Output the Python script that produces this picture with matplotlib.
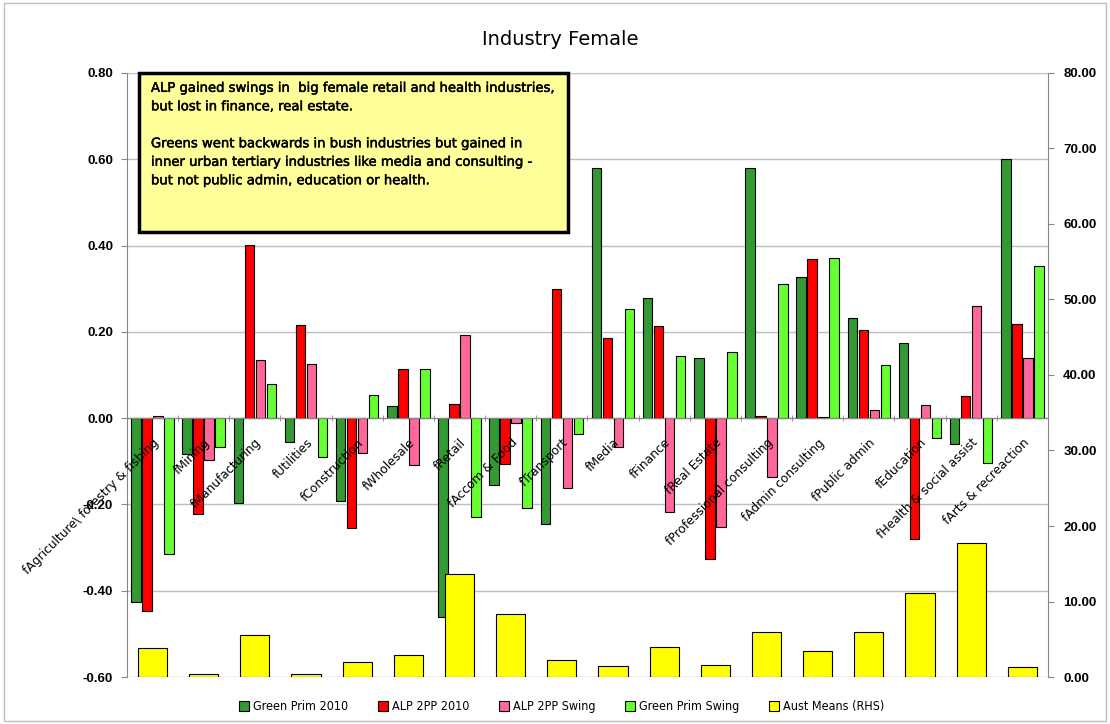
import numpy as np
import matplotlib
matplotlib.use("Agg")
import matplotlib.pyplot as plt
import matplotlib.patheffects as pe
from matplotlib.patches import Rectangle
from matplotlib.ticker import FormatStrFormatter

categories = [
    "fAgriculture\\ forestry & fishing", "fMining", "fManufacturing", "fUtilities",
    "fConstruction", "fWholesale", "fRetail", "fAccom & Food", "fTransport",
    "fMedia", "fFinance", "fReal Estate", "fProfessional consulting",
    "fAdmin consulting", "fPublic admin", "fEducation", "fHealth & social assist",
    "fArts & recreaction",
]

green_prim_2010 = [-0.425, -0.082, -0.197, -0.056, -0.191, 0.027, -0.460, -0.155, -0.246,
                   0.580, 0.279, 0.140, 0.580, 0.326, 0.232, 0.174, -0.059, 0.600]
alp_2pp_2010 = [-0.446, -0.222, 0.402, 0.217, -0.255, 0.115, 0.033, -0.106, 0.300,
                0.185, 0.213, -0.326, 0.005, 0.368, 0.205, -0.279, 0.051, 0.219]
alp_2pp_swing = [0.005, -0.098, 0.134, 0.125, -0.080, -0.109, 0.193, -0.012, -0.163,
                 -0.066, -0.218, -0.252, -0.137, 0.002, 0.019, 0.030, 0.260, 0.140]
green_prim_swing = [-0.314, -0.066, 0.080, -0.090, 0.053, 0.115, -0.229, -0.208, -0.037,
                    0.253, 0.143, 0.154, 0.310, 0.371, 0.124, -0.045, -0.103, 0.352]
aust_means = [3.9, 0.4, 5.5, 0.4, 2.0, 2.9, 13.7, 8.3, 2.2,
              1.4, 4.0, 1.6, 5.9, 3.4, 6.0, 11.1, 17.7, 1.3]

series = [
    ("Green Prim 2010", green_prim_2010, "#339933"),
    ("ALP 2PP 2010", alp_2pp_2010, "#FF0000"),
    ("ALP 2PP Swing", alp_2pp_swing, "#FF6699"),
    ("Green Prim Swing", green_prim_swing, "#66FF33"),
]

fig = plt.figure(figsize=(11.1, 7.24), dpi=100)
ax = fig.add_axes([0.1144, 0.0649, 0.8297, 0.8343])
ax2 = ax.twinx()

x = np.arange(len(categories))
slot = 0.215
bw = 0.185
handles = []
for i, (name, vals, col) in enumerate(series):
    h = ax.bar(x + (i - 1.5) * slot, vals, width=bw, color=col, edgecolor="black",
               linewidth=0.8, label=name, zorder=3)
    handles.append(h)

h5 = ax2.bar(x, aust_means, width=0.57, color="#FFFF00", edgecolor="black",
             linewidth=0.8, label="Aust Means (RHS)", zorder=3)
handles.append(h5)

ax.set_xlim(-0.5, len(categories) - 0.5)
ax.set_ylim(-0.6, 0.8)
ax.set_yticks(np.arange(-0.6, 0.81, 0.2))
ax.yaxis.set_major_formatter(FormatStrFormatter("%.2f"))
ax2.set_ylim(0, 80)
ax2.set_yticks(np.arange(0, 81, 10))
ax2.yaxis.set_major_formatter(FormatStrFormatter("%.2f"))

ax.grid(axis="y", color="#BEBEBE", linewidth=1.0)
ax.yaxis.set_zorder(0.5)
ax.xaxis.set_zorder(5)

ax.spines["top"].set_visible(False)
ax2.spines["top"].set_visible(False)
ax.spines["right"].set_visible(False)
ax2.spines["left"].set_visible(False)
ax2.spines["bottom"].set_visible(False)
ax.spines["left"].set_color("#868686")
ax2.spines["right"].set_color("#868686")
ax.spines["bottom"].set_position(("data", 0))
ax.spines["bottom"].set_color("#868686")
ax.spines["bottom"].set_zorder(4)

ax.tick_params(axis="y", direction="out", length=4, color="#868686", labelsize=9.5, pad=6)
ax2.tick_params(axis="y", direction="out", length=4, color="#868686", labelsize=9.5, pad=7)
for t in ax.get_yticklabels() + ax2.get_yticklabels():
    t.set_fontweight("bold")
    t.set_family("Liberation Sans")

ax.set_xticks(x)
ax.set_xticklabels(categories, rotation=45, ha="right", va="top",
                   rotation_mode="anchor", fontsize=8.8, family="DejaVu Sans")
ax.tick_params(axis="x", which="major", length=0, pad=13)
ax.set_xticks(np.arange(-0.5, len(categories), 1.0), minor=True)
ax.tick_params(axis="x", which="minor", length=4, direction="inout", color="#868686")
ax2.tick_params(axis="x", which="both", length=0, labelbottom=False)

fig.text(0.505, 0.945, "Industry Female", ha="center", va="center", fontsize=14,
         family="DejaVu Sans")

# annotation box
box = Rectangle((0.1255, 0.68), 0.3865, 0.219, transform=fig.transFigure,
                facecolor="#FFFF99", edgecolor="black", linewidth=2.5, zorder=10)
fig.patches.append(box)
note = ("ALP gained swings in  big female retail and health industries,\n"
        "but lost in finance, real estate.\n\n"
        "Greens went backwards in bush industries but gained in\n"
        "inner urban tertiary industries like media and consulting -\n"
        "but not public admin, education or health.")
fig.text(0.136, 0.887, note, ha="left", va="top", fontsize=9.5, family="DejaVu Sans",
         linespacing=1.55, zorder=11,
         path_effects=[pe.withStroke(linewidth=0.35, foreground="black")])

fig.legend(handles=handles, loc="center", bbox_to_anchor=(0.506, 0.024), ncol=5,
           frameon=False, handlelength=0.8, handleheight=0.8,
           handletextpad=0.3, columnspacing=2.4,
           prop={"family": "DejaVu Sans", "size": 9.0, "stretch": "condensed"})

fig.patches.append(Rectangle((0.004, 0.004), 0.992, 0.992, transform=fig.transFigure,
                             facecolor="none", edgecolor="#BEBEBE", linewidth=1.0))

fig.savefig("out.png", dpi=100)
